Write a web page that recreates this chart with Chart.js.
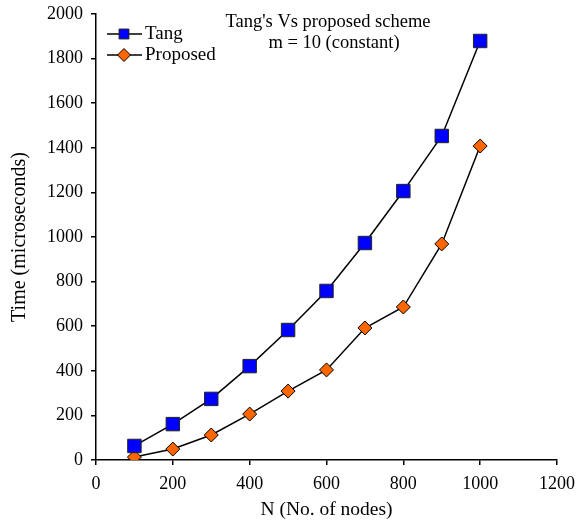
<!DOCTYPE html>
<html>
<head>
<meta charset="utf-8">
<script src="https://cdn.jsdelivr.net/npm/chart.js@4"></script>
<style>
  body { margin: 0; background: #fff; }
  #wrap { width: 578px; height: 523px; }
</style>
</head>
<body>
<div id="wrap"><canvas id="chart"></canvas></div>
<script>
// valeurs
const nodes = [100, 200, 300, 400, 500, 600, 700, 800, 900, 1000];
const tangTimes = [63, 161, 274, 421, 583, 758, 973, 1206, 1453, 1879];
const proposedTimes = [13, 49, 112, 206, 309, 404, 592, 686, 969, 1408];
const titleLines = ["Tang's Vs proposed scheme", "m = 10 (constant)"];

const police = "Liberation Serif, Times New Roman, serif";

// légende + titre dessinés dans la zone du graphique
const legendePlugin = {
  id: "legende",
  afterDraw(chart) {
    const ctx = chart.ctx;
    ctx.save();
    ctx.font = "18.5px " + police;
    ctx.fillStyle = "#000";
    ctx.textAlign = "center";
    ctx.textBaseline = "middle";
    ctx.fillText(titleLines[0], 328, 22);
    ctx.fillText(titleLines[1], 334, 43);

    ctx.font = "19px " + police;
    ctx.textAlign = "left";
    const tailles = [7, 6.5];
    chart.data.datasets.forEach((ds, i) => {
      const y = 34 + i * 21;
      ctx.strokeStyle = "#000";
      ctx.lineWidth = 1.5;
      ctx.beginPath();
      ctx.moveTo(107, y);
      ctx.lineTo(142, y);
      ctx.stroke();
      ctx.fillStyle = ds.pointBackgroundColor;
      ctx.strokeStyle = ds.pointBorderColor;
      ctx.lineWidth = 1;
      Chart.helpers.drawPoint(ctx, { pointStyle: ds.pointStyle, radius: tailles[i], borderWidth: 1 }, 124, y);
      ctx.fillStyle = "#000";
      ctx.fillText(ds.label, 145, y);
    });
    ctx.restore();
  }
};

new Chart(document.getElementById("chart"), {
  type: "line",
  data: {
    labels: nodes,
    datasets: [
      {
        label: "Tang",
        data: nodes.map((n, i) => ({ x: n, y: tangTimes[i] })),
        borderColor: "#000",
        borderWidth: 1.5,
        pointStyle: "rect",
        pointRadius: 9.5,
        pointBackgroundColor: "#0000ff",
        pointBorderColor: "#222",
        pointBorderWidth: 1,
        tension: 0
      },
      {
        label: "Proposed",
        data: nodes.map((n, i) => ({ x: n, y: proposedTimes[i] })),
        borderColor: "#000",
        borderWidth: 1.5,
        pointStyle: "rectRot",
        pointRadius: 7,
        pointBackgroundColor: "#ff6600",
        pointBorderColor: "#000",
        pointBorderWidth: 1,
        tension: 0
      }
    ]
  },
  options: {
    responsive: true,
    maintainAspectRatio: false,
    animation: false,
    layout: { padding: { top: 14, right: 21, left: 0, bottom: 0 } },
    plugins: {
      legend: { display: false },
      tooltip: { enabled: false }
    },
    scales: {
      x: {
        type: "linear",
        min: 0,
        max: 1200,
        ticks: { stepSize: 200, color: "#000", padding: 8, font: { family: police, size: 18 }, maxRotation: 0, callback: (v) => String(v) },
        grid: { drawOnChartArea: false, drawTicks: true, tickLength: 5, color: "#000", lineWidth: 1.5 },
        border: { display: true, color: "#000", width: 1.5 },
        title: { display: true, text: "N (No. of nodes)", color: "#000", font: { family: police, size: 19.5 }, padding: { bottom: 1 } },
        afterFit(scale) { scale.height = 63; scale.paddingRight = 0; scale.paddingLeft = 0; }
      },
      y: {
        min: 0,
        max: 2000,
        ticks: { stepSize: 200, color: "#000", padding: 8, font: { family: police, size: 18 }, callback: (v) => String(v) },
        grid: { drawOnChartArea: false, drawTicks: true, tickLength: 5, color: "#000", lineWidth: 1.5 },
        border: { display: true, color: "#000", width: 1.5 },
        title: { display: true, text: "Time (microseconds)", color: "#000", font: { family: police, size: 20 }, padding: { top: 8 } },
        afterFit(scale) { scale.width = 96; scale.paddingTop = 0; scale.paddingBottom = 0; }
      }
    }
  },
  plugins: [legendePlugin]
});
</script>
</body>
</html>
